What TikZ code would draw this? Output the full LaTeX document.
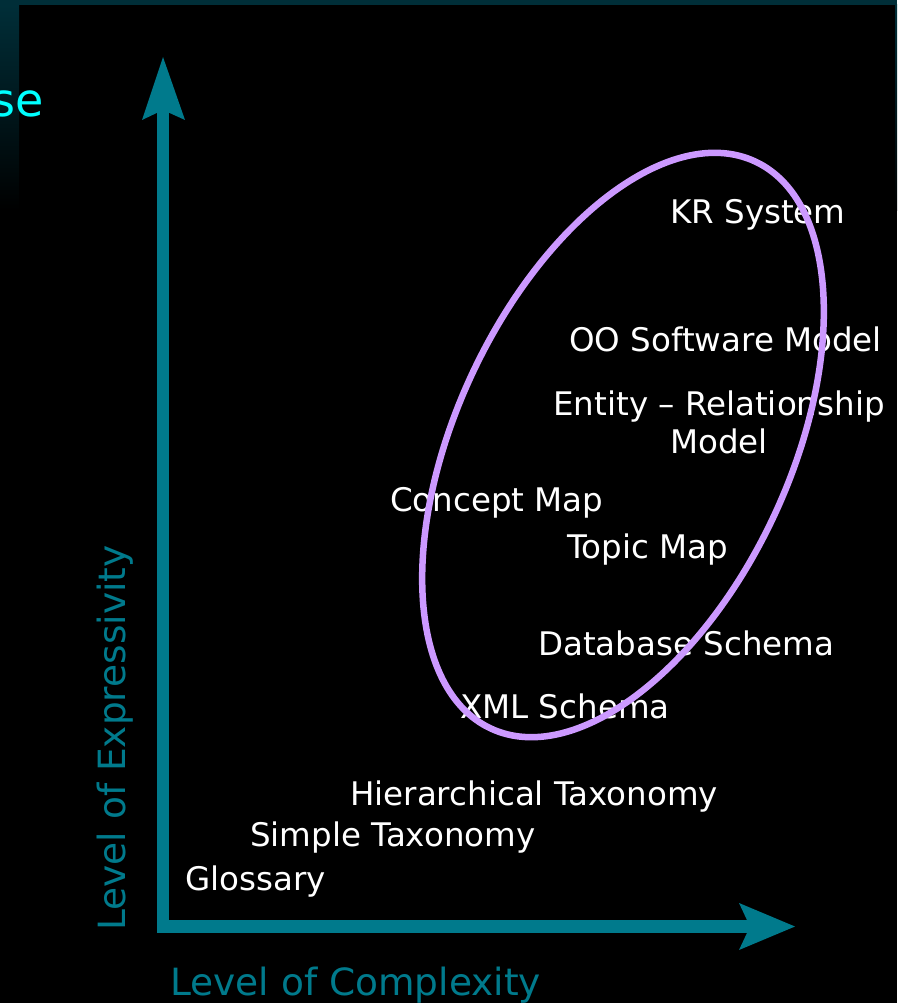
\documentclass[tikz,border=0pt]{standalone}
\usepackage{fontspec}
\setmainfont{DejaVu Sans}
\begin{document}
\begin{tikzpicture}[x=1pt,y=-1pt,
  lbl/.style={text=white, inner sep=0pt, anchor=base west, font=\fontsize{32.5}{38}\selectfont},
  axislbl/.style={text=axisteal, inner sep=0pt, font=\fontsize{37.5}{42}\selectfont},
  axisline/.style={draw=axisteal, line width=12.5pt, line join=miter},
  axishead/.style={fill=axisteal, draw=none},
  region/.style={draw=lavender, line width=6.5pt}
]
\definecolor{axisteal}{RGB}{0,122,140}
\definecolor{frameteal}{RGB}{0,46,56}
\definecolor{lavender}{RGB}{204,153,255}
\definecolor{titlecyan}{RGB}{0,255,255}

% canvas and frame
\fill[black] (0,0) rectangle (897,1003);
\useasboundingbox (0,0) rectangle (897,1003);
\fill[frameteal] (0,0) rectangle (897,5);
\shade[top color=frameteal, bottom color=black] (0,5) rectangle (19,210);
\shade[top color=frameteal, bottom color=black] (895,5) rectangle (897,210);

% title fragment
\node[text=titlecyan, inner sep=0pt, anchor=base east, font=\fontsize{46}{50}\selectfont] (title) at (44,117) {se};

% axes
\coordinate (O) at (163,926.5);
\coordinate (ynotch) at (163,110);
\coordinate (xnotch) at (750,926.5);
\coordinate (ytip) at (163,57);
\coordinate (xtip) at (795,926.5);
\draw[axisline] (xnotch) -- (O) -- (ynotch);
\fill[axishead] (ytip) -- (185,120) -- (ynotch) -- (142,120) -- cycle;
\fill[axishead] (xtip) -- (739,950) -- (xnotch) -- (739,903) -- cycle;

\node[axislbl, anchor=base west] (xlabel) at (170,995) {Level of Complexity};
\node[axislbl, anchor=base west, rotate=90] (ylabel) at (125,931) {Level of Expressivity};

% model kinds
\node[lbl] (kr) at (670,223) {KR System};
\node[lbl] (oo) at (569,351) {OO Software Model};
\node[lbl, anchor=north, align=center] (er) at (719,391) {Entity – Relationship\\Model};
\node[lbl] (cm) at (390,511) {Concept Map};
\node[lbl] (tm) at (567,558) {Topic Map};
\node[lbl] (db) at (538,655) {Database Schema};
\node[lbl] (xml) at (460,718) {XML Schema};
\node[lbl] (ht) at (350,805) {Hierarchical Taxonomy};
\node[lbl] (st) at (250,846) {Simple Taxonomy};
\node[lbl] (gl) at (185,890) {Glossary};

% semantic region
\draw[region, shift={(623,445)}, rotate=65] (0,0) ellipse [x radius=312.8pt, y radius=166.8pt];
\end{tikzpicture}
\end{document}
